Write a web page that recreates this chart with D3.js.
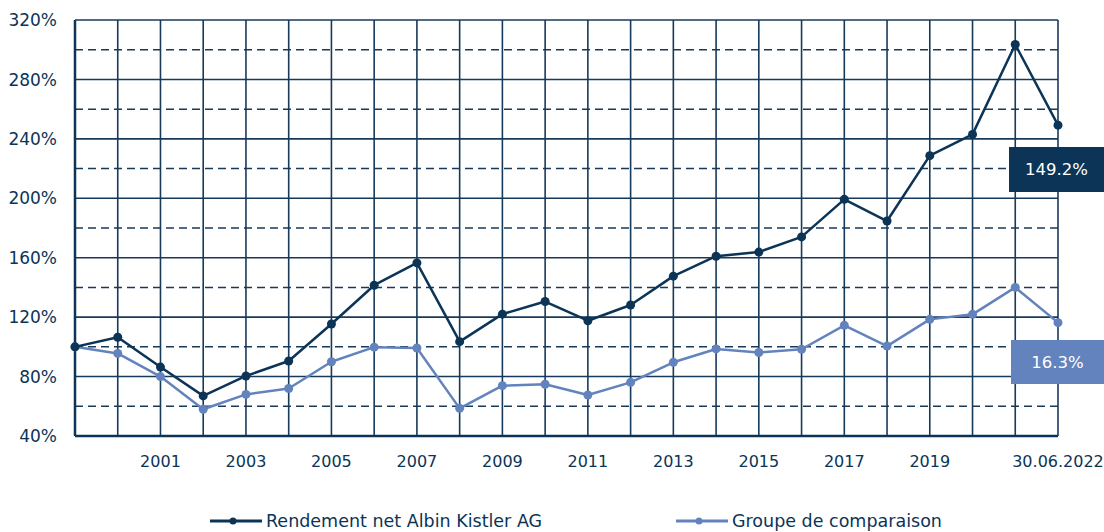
<!DOCTYPE html>
<html>
<head>
<meta charset="utf-8">
<script src="https://cdn.jsdelivr.net/npm/d3@7"></script>
<style>
  body { margin: 0; background: #fff; }
  svg { display: block; font-family: "DejaVu Sans", sans-serif; }
</style>
</head>
<body>
<div id="chart"></div>
<script>
// Years (last point is the half-year date 30.06.2022)
const years = [1999, 2000, 2001, 2002, 2003, 2004, 2005, 2006, 2007, 2008, 2009, 2010,
               2011, 2012, 2013, 2014, 2015, 2016, 2017, 2018, 2019, 2020, 2021, 2022];

// Rendement net Albin Kistler AG (index, %)
const kistler = [100, 106.5, 86.4, 67, 80.4, 90.5, 115.4, 141.5, 156.5, 103.5, 122, 130.5,
                 117.6, 128.2, 147.6, 161, 163.8, 174, 199.3, 184.7, 228.7, 243, 303.5, 249.2];

// Groupe de comparaison (index, %)
const peers = [100, 95.6, 80, 58, 68, 72, 90, 99.8, 99.2, 58.6, 73.9, 74.8,
               67.6, 76.1, 89.6, 98.6, 96.2, 98.4, 114.5, 100.5, 118.5, 121.9, 140, 116.3];

const yTicks = [40, 80, 120, 160, 200, 240, 280, 320];
const yDashed = [60, 100, 140, 180, 220, 260, 300];
const xLabels = [2001, 2003, 2005, 2007, 2009, 2011, 2013, 2015, 2017, 2019, 2022];
const lastLabel = "30.06.2022";
const badges = [
  { text: "149.2%", series: "dark" },
  { text: "16.3%", series: "light" }
];
const legendNames = ["Rendement net Albin Kistler AG", "Groupe de comparaison"];

const dark = "#0b3457";
const light = "#6283bd";
const grid = "#173a5b";

const W = 1104, H = 532;
const margin = { left: 75, right: 46, top: 20, bottom: 96 };

const svg = d3.select("#chart").append("svg")
  .attr("width", W).attr("height", H);

const x = d3.scaleLinear()
  .domain([1999, 2022])
  .range([margin.left, W - margin.right]);

const y = d3.scaleLinear()
  .domain([40, 320])
  .range([H - margin.bottom, margin.top]);

// Horizontal dashed gridlines
svg.append("g").selectAll("line")
  .data(yDashed).join("line")
  .attr("x1", x(1999)).attr("x2", x(2022))
  .attr("y1", d => y(d)).attr("y2", d => y(d))
  .attr("stroke", grid).attr("stroke-width", 1.5)
  .attr("stroke-dasharray", "8,5");

// Horizontal solid gridlines
svg.append("g").selectAll("line")
  .data(yTicks).join("line")
  .attr("x1", x(1999)).attr("x2", x(2022))
  .attr("y1", d => y(d)).attr("y2", d => y(d))
  .attr("stroke", grid).attr("stroke-width", 1.6);

// Vertical gridlines at each year
svg.append("g").selectAll("line")
  .data(years).join("line")
  .attr("x1", d => x(d)).attr("x2", d => x(d))
  .attr("y1", y(320)).attr("y2", y(40))
  .attr("stroke", grid).attr("stroke-width", 1.6);

// Axis lines (slightly heavier)
svg.append("line")
  .attr("x1", x(1999)).attr("x2", x(1999))
  .attr("y1", y(320)).attr("y2", y(40))
  .attr("stroke", dark).attr("stroke-width", 2.5);
svg.append("line")
  .attr("x1", x(1999)).attr("x2", x(2022))
  .attr("y1", y(40)).attr("y2", y(40))
  .attr("stroke", dark).attr("stroke-width", 2.5);

// Y axis labels
svg.append("g").selectAll("text")
  .data(yTicks).join("text")
  .attr("x", 57).attr("y", d => y(d))
  .attr("dy", "0.36em")
  .attr("text-anchor", "end")
  .attr("fill", dark)
  .style("font-size", "17px")
  .text(d => d + "%");

// X axis labels
svg.append("g").selectAll("text")
  .data(xLabels).join("text")
  .attr("x", d => x(d)).attr("y", 467)
  .attr("text-anchor", "middle")
  .attr("fill", dark)
  .style("font-size", "16px")
  .text(d => d === 2022 ? lastLabel : d);

// Series lines and markers
const line = d3.line()
  .x(d => x(d[0]))
  .y(d => y(d[1]));

const series = [
  { values: kistler, color: dark },
  { values: peers, color: light }
];

series.slice().reverse().forEach(s => {
  const pts = years.map((yr, i) => [yr, s.values[i]]);
  svg.append("path")
    .datum(pts)
    .attr("d", line)
    .attr("fill", "none")
    .attr("stroke", s.color)
    .attr("stroke-width", 2.5)
    .attr("stroke-linejoin", "round");
  svg.append("g").selectAll("circle")
    .data(pts).join("circle")
    .attr("cx", d => x(d[0])).attr("cy", d => y(d[1]))
    .attr("r", 4.5)
    .attr("fill", s.color);
});

// Value badges on the right
const badgePos = [
  { x0: 1009, y0: 147, h: 45, fill: dark },
  { x0: 1011, y0: 340, h: 44, fill: light }
];
badges.forEach((b, i) => {
  const p = badgePos[i];
  svg.append("rect")
    .attr("x", p.x0).attr("y", p.y0)
    .attr("width", W - p.x0).attr("height", p.h)
    .attr("fill", p.fill);
  svg.append("text")
    .attr("x", (p.x0 + W) / 2).attr("y", p.y0 + p.h / 2)
    .attr("dy", "0.36em")
    .attr("text-anchor", "middle")
    .attr("fill", "#fff")
    .style("font-size", "16.5px")
    .text(b.text);
});

// Legend
const legendX = [210, 676];
legendNames.forEach((name, i) => {
  const g = svg.append("g").attr("transform", `translate(${legendX[i]},521)`);
  const c = i === 0 ? dark : light;
  g.append("line").attr("x1", 0).attr("x2", 52)
    .attr("stroke", c).attr("stroke-width", 3);
  g.append("circle").attr("cx", 23).attr("r", 3.5).attr("fill", c);
  g.append("text").attr("x", 56).attr("dy", "0.36em")
    .attr("fill", dark)
    .style("font-size", "17.5px")
    .text(name);
});
</script>
</body>
</html>
